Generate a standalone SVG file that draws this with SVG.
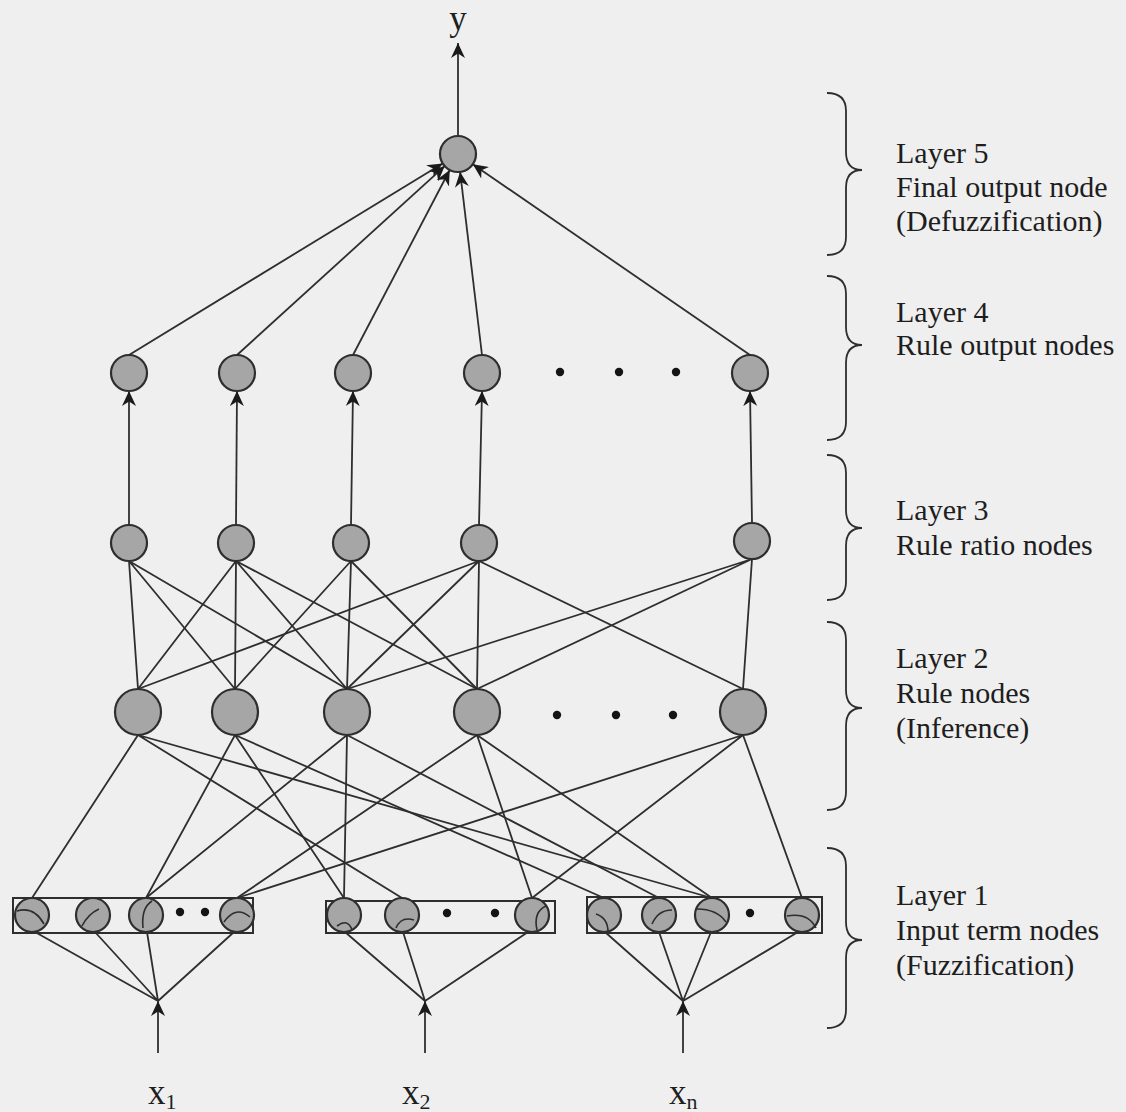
<svg xmlns="http://www.w3.org/2000/svg" width="1126" height="1112" viewBox="0 0 1126 1112">
  <defs>
    <marker id="arrow" markerUnits="userSpaceOnUse" markerWidth="16" markerHeight="14" refX="15" refY="7" orient="auto">
      <path d="M0,0 L15,7 L0,14 L4.5,7 z" fill="#1a1a1a"/>
    </marker>
    <style>
      .edge { stroke: #2e2e2e; stroke-width: 1.8; fill: none; }
      .arr { stroke: #2e2e2e; stroke-width: 1.8; fill: none; marker-end: url(#arrow); }
      .node { fill: #a6a6a6; stroke: #2e2e2e; stroke-width: 2.2; }
      .mf { fill: none; stroke: #2e2e2e; stroke-width: 1.6; }
      .box { fill: none; stroke: #2e2e2e; stroke-width: 2; }
      .dot { fill: #141414; }
      .lbl { font-family: "Liberation Serif", "Times New Roman", serif; font-size: 30px; fill: #1e1e1e; }
      .var { font-family: "Liberation Serif", "Times New Roman", serif; font-size: 35px; fill: #1e1e1e; }
      .brace { fill: none; stroke: #2e2e2e; stroke-width: 1.8; }
    </style>
  </defs>

  <rect width="1126" height="1112" fill="#efefef"/>

  <!-- connectors -->
  <g id="connectors">
    <!-- inputs into term-node fans -->
    <line class="arr" x1="158" y1="1053" x2="158" y2="1001"/>
    <line class="arr" x1="425" y1="1053" x2="425" y2="1001"/>
    <line class="arr" x1="683" y1="1053" x2="683" y2="1001"/>
    <!-- fans: input point to each term node -->
    <path class="edge" d="M158,1001 L35,932 M158,1001 L95,932 M158,1001 L147,932 M158,1001 L234,932"/>
    <path class="edge" d="M425,1001 L345,932 M425,1001 L403,932 M425,1001 L528,932"/>
    <path class="edge" d="M683,1001 L605,932 M683,1001 L659,932 M683,1001 L711,932 M683,1001 L798,932"/>
    <!-- term nodes to rule nodes -->
    <path class="edge" d="M138,735 L32,898 M138,735 L402,898 M138,735 L712,898"/>
    <path class="edge" d="M235,735 L146,898 M235,735 L344,898 M235,735 L604,898"/>
    <path class="edge" d="M347,735 L146,898 M347,735 L344,898 M347,735 L659,898"/>
    <path class="edge" d="M477,735 L237,898 M477,735 L532,898 M477,735 L712,898"/>
    <path class="edge" d="M743,735 L237,898 M743,735 L532,898 M743,735 L802,898"/>
    <!-- rule nodes to rule ratio nodes -->
    <path class="edge" d="M129,561 L138,689 M129,561 L235,689 M129,561 L347,689"/>
    <path class="edge" d="M236,561 L138,689 M236,561 L235,689 M236,561 L347,689 M236,561 L477,689"/>
    <path class="edge" d="M351,561 L235,689 M351,561 L347,689 M351,561 L477,689"/>
    <path class="edge" d="M479,561 L138,689 M479,561 L347,689 M479,561 L477,689 M479,561 L743,689"/>
    <path class="edge" d="M752,559 L347,689 M752,559 L477,689 M752,559 L743,689"/>
    <!-- rule ratio nodes up to rule output nodes -->
    <line class="arr" x1="129" y1="525" x2="129" y2="391"/>
    <line class="arr" x1="236" y1="525" x2="237" y2="391"/>
    <line class="arr" x1="351" y1="525" x2="353" y2="391"/>
    <line class="arr" x1="479" y1="525" x2="482" y2="391"/>
    <line class="arr" x1="752" y1="523" x2="750" y2="391"/>
    <!-- rule output nodes into the final node -->
    <line class="arr" x1="129" y1="355" x2="442.6" y2="163.4"/>
    <line class="arr" x1="237" y1="355" x2="444.7" y2="166.1"/>
    <line class="arr" x1="353" y1="355" x2="449.7" y2="170.0"/>
    <line class="arr" x1="482" y1="355" x2="460.1" y2="171.9"/>
    <line class="arr" x1="750" y1="355" x2="472.8" y2="164.2"/>
    <!-- output -->
    <line class="arr" x1="458" y1="136" x2="458" y2="43"/>
  </g>

  <!-- Layer 1: input term nodes -->
  <g id="layer1">
    <rect class="box" x="13" y="898" width="240" height="35"/>
    <rect class="box" x="326" y="901" width="229" height="32"/>
    <rect class="box" x="587" y="897" width="235" height="36"/>
    <g id="term-a1"><circle class="node" cx="32" cy="915" r="17"/><path class="mf" d="M17,911 Q34,906 44,924"/></g>
    <g id="term-a2"><circle class="node" cx="93" cy="915" r="17"/><path class="mf" d="M82,926 Q88,914 99,909"/></g>
    <g id="term-a3"><circle class="node" cx="146" cy="915" r="17"/><path class="mf" d="M152,901 Q141,908 143,928"/></g>
    <g id="term-a4"><circle class="node" cx="237" cy="915" r="17"/><path class="mf" d="M224,922 Q236,905 250,917"/></g>
    <circle class="dot" cx="180" cy="912" r="4.2"/>
    <circle class="dot" cx="205" cy="912" r="4.2"/>

    <g id="term-b1"><circle class="node" cx="344" cy="915" r="17"/><path class="mf" d="M337,926 Q348,918 352,930"/></g>
    <g id="term-b2"><circle class="node" cx="402" cy="915" r="17"/><path class="mf" d="M396,928 Q401,916 414,920"/></g>
    <g id="term-b3"><circle class="node" cx="532" cy="915" r="17"/><path class="mf" d="M537,930 Q533,912 546,906"/></g>
    <circle class="dot" cx="447" cy="913" r="4.2"/>
    <circle class="dot" cx="495" cy="913" r="4.2"/>

    <g id="term-c1"><circle class="node" cx="604" cy="915" r="17"/><path class="mf" d="M596,914 Q608,918 608,932"/></g>
    <g id="term-c2"><circle class="node" cx="659" cy="915" r="17"/><path class="mf" d="M652,924 Q658,910 672,910"/></g>
    <g id="term-c3"><circle class="node" cx="712" cy="915" r="17"/><path class="mf" d="M697,909 Q717,909 726,922"/></g>
    <g id="term-c4"><circle class="node" cx="802" cy="915" r="17"/><path class="mf" d="M787,916 Q808,912 816,928"/></g>
    <circle class="dot" cx="750" cy="913" r="4.2"/>
  </g>

  <!-- Layer 2: rule nodes -->
  <g id="layer2">
    <g id="rule-1"><circle class="node" cx="138" cy="712" r="23"/></g>
    <g id="rule-2"><circle class="node" cx="235" cy="712" r="23"/></g>
    <g id="rule-3"><circle class="node" cx="347" cy="712" r="23"/></g>
    <g id="rule-4"><circle class="node" cx="477" cy="712" r="23"/></g>
    <g id="rule-5"><circle class="node" cx="743" cy="712" r="23"/></g>
    <circle class="dot" cx="557" cy="715" r="4.2"/>
    <circle class="dot" cx="616" cy="715" r="4.2"/>
    <circle class="dot" cx="673" cy="715" r="4.2"/>
  </g>

  <!-- Layer 3: rule ratio nodes -->
  <g id="layer3">
    <g id="ratio-1"><circle class="node" cx="129" cy="543" r="18"/></g>
    <g id="ratio-2"><circle class="node" cx="236" cy="543" r="18"/></g>
    <g id="ratio-3"><circle class="node" cx="351" cy="543" r="18"/></g>
    <g id="ratio-4"><circle class="node" cx="479" cy="543" r="18"/></g>
    <g id="ratio-5"><circle class="node" cx="752" cy="541" r="18"/></g>
  </g>

  <!-- Layer 4: rule output nodes -->
  <g id="layer4">
    <g id="out-1"><circle class="node" cx="129" cy="373" r="18"/></g>
    <g id="out-2"><circle class="node" cx="237" cy="373" r="18"/></g>
    <g id="out-3"><circle class="node" cx="353" cy="373" r="18"/></g>
    <g id="out-4"><circle class="node" cx="482" cy="373" r="18"/></g>
    <g id="out-5"><circle class="node" cx="750" cy="373" r="18"/></g>
    <circle class="dot" cx="560" cy="372" r="4.2"/>
    <circle class="dot" cx="619" cy="372" r="4.2"/>
    <circle class="dot" cx="676" cy="372" r="4.2"/>
  </g>

  <!-- Layer 5: final output node -->
  <g id="layer5">
    <g id="final"><circle class="node" cx="458" cy="154" r="18"/></g>
  </g>

  <!-- variable labels -->
  <g id="labels">
    <text class="var" x="458" y="30" text-anchor="middle" font-size="33">y</text>
    <text class="var" x="148" y="1104">x<tspan font-size="22" dy="5">1</tspan></text>
    <text class="var" x="402" y="1104">x<tspan font-size="22" dy="5">2</tspan></text>
    <text class="var" x="669" y="1104">x<tspan font-size="22" dy="5">n</tspan></text>
  </g>

  <!-- layer braces and captions -->
  <g id="legend">
    <path class="brace" d="M827,93 Q846,93 846,111 L846,152 Q846,170 862,170 Q846,170 846,188 L846,237 Q846,255 827,255"/>
    <text class="lbl" x="896" y="163">Layer 5</text>
    <text class="lbl" x="896" y="197">Final output node</text>
    <text class="lbl" x="896" y="231">(Defuzzification)</text>

    <path class="brace" d="M827,276 Q846,276 846,294 L846,327 Q846,345 862,345 Q846,345 846,363 L846,422 Q846,440 827,440"/>
    <text class="lbl" x="896" y="322">Layer 4</text>
    <text class="lbl" x="896" y="355">Rule output nodes</text>

    <path class="brace" d="M827,455 Q846,455 846,473 L846,510 Q846,528 862,528 Q846,528 846,546 L846,582 Q846,600 827,600"/>
    <text class="lbl" x="896" y="520">Layer 3</text>
    <text class="lbl" x="896" y="555">Rule ratio nodes</text>

    <path class="brace" d="M827,622 Q846,622 846,640 L846,690 Q846,708 862,708 Q846,708 846,726 L846,792 Q846,810 827,810"/>
    <text class="lbl" x="896" y="668">Layer 2</text>
    <text class="lbl" x="896" y="703">Rule nodes</text>
    <text class="lbl" x="896" y="738">(Inference)</text>

    <path class="brace" d="M827,848 Q846,848 846,866 L846,922 Q846,940 862,940 Q846,940 846,958 L846,1010 Q846,1028 827,1028"/>
    <text class="lbl" x="896" y="905">Layer 1</text>
    <text class="lbl" x="896" y="940">Input term nodes</text>
    <text class="lbl" x="896" y="975">(Fuzzification)</text>
  </g>
</svg>
